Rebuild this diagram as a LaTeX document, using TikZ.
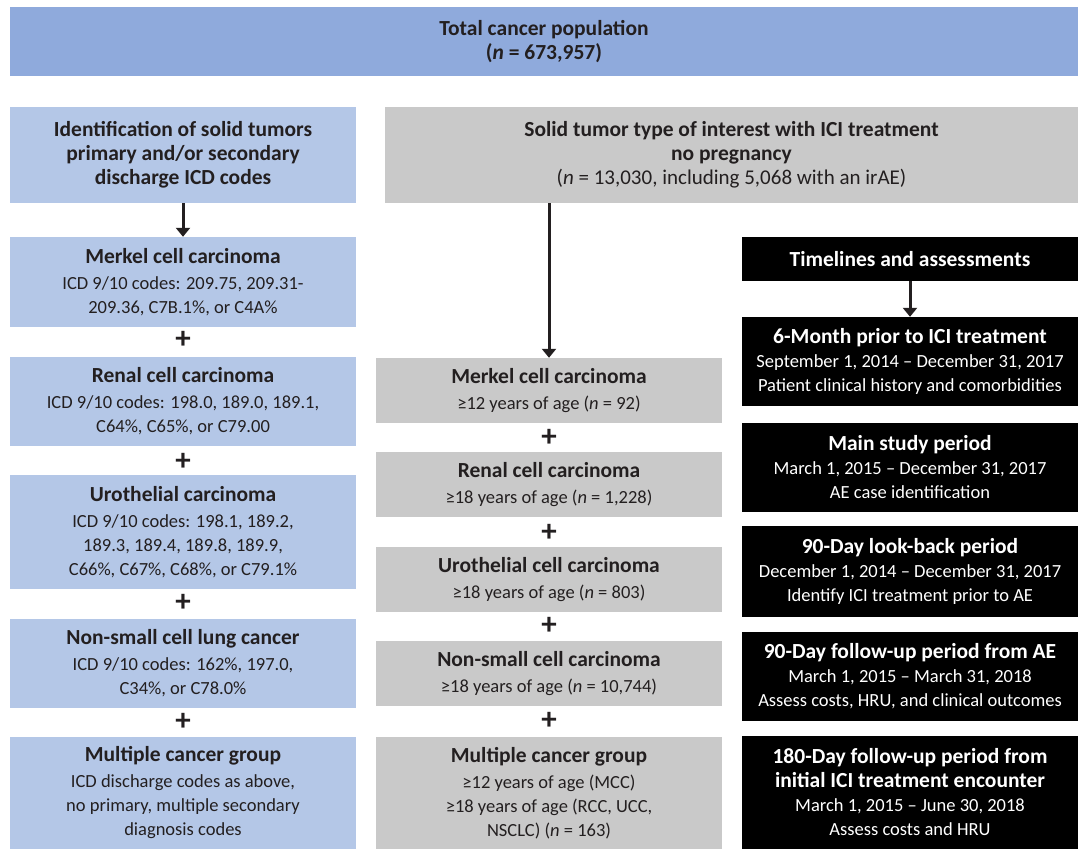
\documentclass[tikz,border=0pt]{standalone}
\usepackage{fontspec}
\setmainfont{Carlito}
\usepackage{tikz}
\usetikzlibrary{positioning,calc,arrows.meta}
\definecolor{Ink}{HTML}{231F20}
\definecolor{TopBlue}{HTML}{8FAADC}
\definecolor{SrcBlue}{HTML}{B4C7E7}
\definecolor{CohortGray}{HTML}{C9C9C9}
\definecolor{TimeBlack}{HTML}{000000}
% box from (x1,y1) to (x2,y2), pixel units, y downwards
\newcommand{\FlowBox}[7]{%
\node[#1, minimum width={#5-#3}, minimum height={#6-#4}] (#2)
  at ({(#3+#5)/2},{(#4+#6)/2}) {#7};
}
\newcommand{\BoxHead}[1]{{\fontsize{21.5}{24}\selectfont\bfseries #1}}

\begin{document}
\begin{tikzpicture}[
    x=1pt,
    y=-1pt,
    every node/.style={font=\fontsize{18.5}{24}\selectfont, text=Ink},
    topbox/.style={rectangle, fill=TopBlue, inner sep=0pt, align=center},
    srcbox/.style={rectangle, fill=SrcBlue, inner sep=0pt, align=center},
    cohortbox/.style={rectangle, fill=CohortGray, inner sep=0pt, align=center},
    timebox/.style={rectangle, fill=TimeBlack, inner sep=0pt, align=center,
                    text=white},
    plussign/.style={inner sep=0pt, font=\fontsize{31}{31}\selectfont\bfseries},
    flowarrow/.style={-{Triangle[length=9pt,width=14pt]}, line width=3pt, Ink}
]
\useasboundingbox (0,0) rectangle (1079,849);

% Total population
\FlowBox{topbox}{nTotal}{10}{7}{1078}{76}{%
  \BoxHead{Total cancer population}\\
  \BoxHead{(\textit{n} = 673,957)}}

% Left column: ICD identification
\FlowBox{srcbox}{lId}{10}{107}{356}{203}{%
  \BoxHead{Identification of solid tumors}\\
  \BoxHead{primary and/or secondary}\\
  \BoxHead{discharge ICD codes}}
\FlowBox{srcbox}{lMerkel}{10}{237}{356}{327}{%
  \BoxHead{Merkel cell carcinoma}\\[2pt]
  ICD 9/10 codes: 209.75, 209.31-\\
  209.36, C7B.1\%, or C4A\%}
\FlowBox{srcbox}{lRenal}{10}{357}{356}{446}{%
  \BoxHead{Renal cell carcinoma}\\[2pt]
  ICD 9/10 codes: 198.0, 189.0, 189.1,\\
  C64\%, C65\%, or C79.00}
\FlowBox{srcbox}{lUro}{10}{475}{356}{589}{%
  \BoxHead{Urothelial carcinoma}\\[2pt]
  ICD 9/10 codes: 198.1, 189.2,\\
  189.3, 189.4, 189.8, 189.9,\\
  C66\%, C67\%, C68\%, or C79.1\%}
\FlowBox{srcbox}{lNsclc}{10}{619}{356}{708}{%
  \BoxHead{Non-small cell lung cancer}\\[2pt]
  ICD 9/10 codes: 162\%, 197.0,\\
  C34\%, or C78.0\%}
\FlowBox{srcbox}{lMulti}{10}{737}{356}{849}{%
  \BoxHead{Multiple cancer group}\\[2pt]
  ICD discharge codes as above,\\
  no primary, multiple secondary\\
  diagnosis codes}

\foreach \name/\y in {lPlusA/340, lPlusB/462, lPlusC/603, lPlusD/722} {
  \node[plussign] (\name) at (183,\y) {+};
}
\draw[flowarrow] (lId.south) -- (lMerkel.north);

% Middle column: cohorts
\FlowBox{cohortbox}{mTop}{385}{107}{1078}{203}{%
  \BoxHead{Solid tumor type of interest with ICI treatment}\\
  \BoxHead{no pregnancy}\\
  {\fontsize{21}{24}\selectfont (\textit{n} = 13,030, including 5,068 with an irAE)}}
\FlowBox{cohortbox}{mMerkel}{376}{358}{722}{423}{%
  \BoxHead{Merkel cell carcinoma}\\[2pt]
  ≥12 years of age (\textit{n} = 92)}
\FlowBox{cohortbox}{mRenal}{376}{452}{722}{517}{%
  \BoxHead{Renal cell carcinoma}\\[2pt]
  ≥18 years of age (\textit{n} = 1,228)}
\FlowBox{cohortbox}{mUro}{376}{547}{722}{612}{%
  \BoxHead{Urothelial cell carcinoma}\\[2pt]
  ≥18 years of age (\textit{n} = 803)}
\FlowBox{cohortbox}{mNsclc}{376}{641}{722}{706}{%
  \BoxHead{Non-small cell carcinoma}\\[2pt]
  ≥18 years of age (\textit{n} = 10,744)}
\FlowBox{cohortbox}{mMulti}{376}{737}{722}{849}{%
  \BoxHead{Multiple cancer group}\\[2pt]
  ≥12 years of age (MCC)\\
  ≥18 years of age (RCC, UCC,\\
  NSCLC) (\textit{n} = 163)}

\foreach \name/\y in {mPlusA/438, mPlusB/533, mPlusC/626, mPlusD/721} {
  \node[plussign] (\name) at (549,\y) {+};
}
\draw[flowarrow] (mMerkel.north |- mTop.south) -- (mMerkel.north);

% Right column: timelines
\FlowBox{timebox}{rHead}{742}{237}{1078}{281}{%
  \BoxHead{Timelines and assessments}}
\FlowBox{timebox}{rPrior}{742}{317}{1078}{406}{%
  \BoxHead{6-Month prior to ICI treatment}\\
  September 1, 2014 – December 31, 2017\\
  Patient clinical history and comorbidities}
\FlowBox{timebox}{rMain}{742}{423}{1078}{512}{%
  \BoxHead{Main study period}\\
  March 1, 2015 – December 31, 2017\\
  AE case identification}
\FlowBox{timebox}{rLook}{742}{526}{1078}{617}{%
  \BoxHead{90-Day look-back period}\\
  December 1, 2014 – December 31, 2017\\
  Identify ICI treatment prior to AE}
\FlowBox{timebox}{rFollow}{742}{632}{1078}{721}{%
  \BoxHead{90-Day follow-up period from AE}\\
  March 1, 2015 – March 31, 2018\\
  Assess costs, HRU, and clinical outcomes}
\FlowBox{timebox}{rLong}{742}{736}{1078}{849}{%
  \BoxHead{180-Day follow-up period from}\\
  \BoxHead{initial ICI treatment encounter}\\
  March 1, 2015 – June 30, 2018\\
  Assess costs and HRU}

\draw[flowarrow] (rHead.south) -- (rPrior.north);

\end{tikzpicture}
\end{document}
